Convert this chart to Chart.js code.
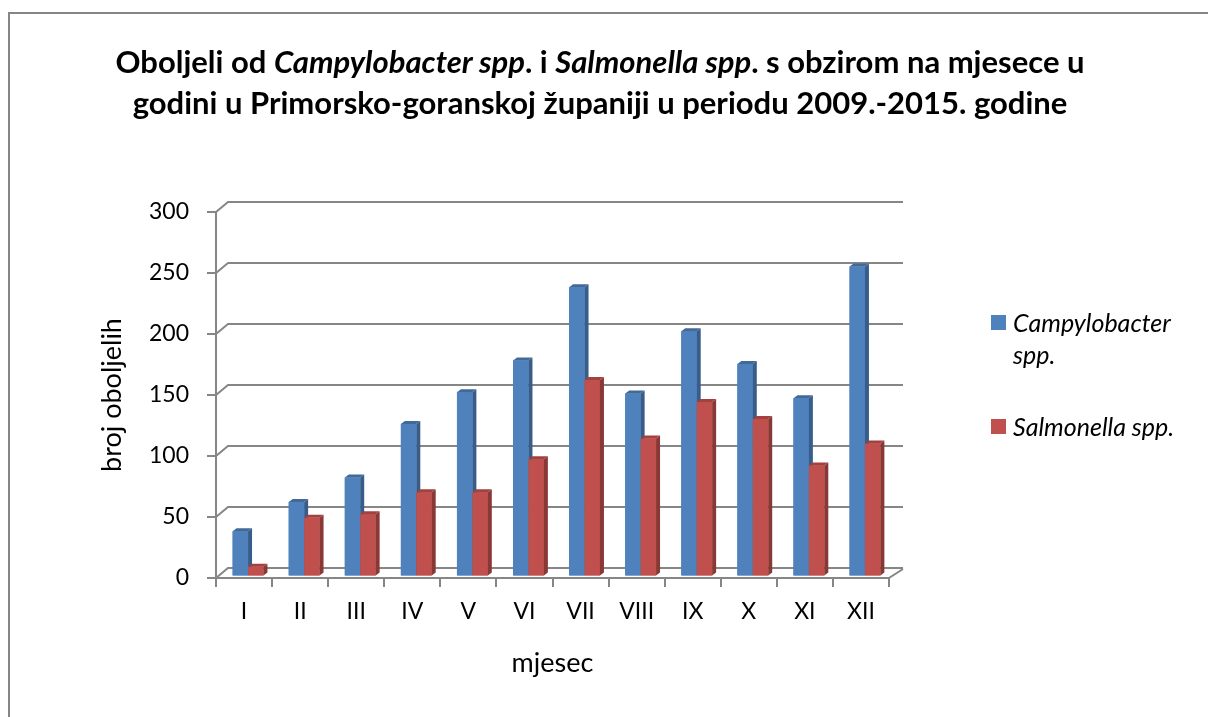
<!DOCTYPE html>
<html>
<head>
<meta charset="utf-8">
<script src="https://cdn.jsdelivr.net/npm/chart.js@4"></script>
<style>
  body { margin: 0; background: #fff; font-family: "Lato", sans-serif; }
  #wrap { position: relative; width: 1208px; height: 717px; overflow: hidden; }
  #frame { position: absolute; left: 8px; top: 12px; width: 1300px; height: 800px;
           border-top: 2px solid #868686; border-left: 2px solid #868686; }
  #title { position: absolute; left: 0; top: 41px; width: 1200px; text-align: center;
           font-size: 31px; font-weight: bold; line-height: 41px; color: #000; }
  .lg { position: absolute; font-style: italic; font-size: 25px; line-height: 32px; color: #000; }
  .sw { position: absolute; width: 15px; height: 15px; }
  canvas { position: absolute; left: 0; top: 0; }
</style>
</head>
<body>
<div id="wrap">
  <div id="frame"></div>
  <canvas id="graph--months" width="1208" height="717"></canvas>
  <div id="title">Oboljeli od <i>Campylobacter spp</i>. i <i>Salmonella spp</i>. s obzirom na mjesece u<br>godini u Primorsko-goranskoj županiji u periodu 2009.-2015. godine</div>
  <div class="sw" style="left:991px;top:315px;background:#4F81BD"></div>
  <div class="lg" style="left:1013px;top:306px;width:190px">Campylobacter<br>spp.</div>
  <div class="sw" style="left:991px;top:419px;background:#C0504D"></div>
  <div class="lg" style="left:1013px;top:410px;width:195px">Salmonella spp.</div>
</div>
<script>
const MONTHS = ["I", "II", "III", "IV", "V", "VI", "VII", "VIII", "IX", "X", "XI", "XII"];
const CAMPYLOBACTER = [37, 61, 81, 125, 151, 177, 237, 150, 201, 174, 146, 254];
const SALMONELLA = [8, 48, 51, 69, 69, 96, 161, 113, 143, 129, 91, 109];
const Y_MIN = 0;
const Y_MAX = 300;
const Y_STEP = 50;

const GRID = "#868686";
// front, side, top colours per series
const FACES = [
  ["#4F81BD", "#385D8A", "#41699A"],
  ["#C0504D", "#8A3836", "#A3413E"]
];

// fake 3D: back wall / floor offset and bar depth
const WALL = { dx: 14, dy: 9 };
const BAR = { dx: 4, dy: 3, shiftX: 4, shiftY: -1.6 };

const threeD = {
  id: "threeD",
  beforeDatasetsDraw(chart) {
    const { ctx, chartArea: a, scales: { y } } = chart;
    ctx.save();
    ctx.strokeStyle = GRID;
    ctx.lineWidth = 2;
    y.ticks.forEach(t => {
      const py = y.getPixelForValue(t.value);
      ctx.beginPath();
      ctx.moveTo(a.left, py);
      ctx.lineTo(a.left + WALL.dx - 2, py - WALL.dy - 1);
      ctx.lineTo(a.right + WALL.dx, py - WALL.dy - 1);
      ctx.stroke();
    });
    ctx.beginPath();
    ctx.moveTo(a.right, a.bottom);
    ctx.lineTo(a.right + WALL.dx, a.bottom - WALL.dy);
    ctx.stroke();
    ctx.restore();

    ctx.save();
    ctx.translate(BAR.shiftX, BAR.shiftY);
  },
  afterDatasetsDraw(chart) {
    const ctx = chart.ctx;
    const metas = chart.data.datasets.map((d, j) => chart.getDatasetMeta(j));
    MONTHS.forEach((m, i) => {
      metas.forEach((meta, j) => {
        const bar = meta.data[i];
        const { x, y, base, width } = bar.getProps(["x", "y", "base", "width"], true);
        const l = x - width / 2, r = x + width / 2;
        ctx.fillStyle = FACES[j][0];
        ctx.fillRect(l, y, width, base - y);
        ctx.fillStyle = FACES[j][1];
        ctx.beginPath();
        ctx.moveTo(r, y);
        ctx.lineTo(r + BAR.dx, y - BAR.dy);
        ctx.lineTo(r + BAR.dx, base - BAR.dy);
        ctx.lineTo(r, base);
        ctx.closePath();
        ctx.fill();
        ctx.fillStyle = FACES[j][2];
        ctx.beginPath();
        ctx.moveTo(l, y);
        ctx.lineTo(l + BAR.dx, y - BAR.dy);
        ctx.lineTo(r + BAR.dx, y - BAR.dy);
        ctx.lineTo(r, y);
        ctx.closePath();
        ctx.fill();
      });
    });
    ctx.restore();
  }
};

const CHART = document.getElementById("graph--months");

let monthsChart = new Chart(CHART, {
  type: "bar",
  data: {
    labels: MONTHS,
    datasets: [{
      label: "Campylobacter spp.",
      data: CAMPYLOBACTER,
      backgroundColor: FACES[0][0],
      categoryPercentage: 0.55,
      barPercentage: 1.0
    }, {
      label: "Salmonella spp.",
      data: SALMONELLA,
      backgroundColor: FACES[1][0],
      categoryPercentage: 0.55,
      barPercentage: 1.0
    }]
  },
  plugins: [threeD],
  options: {
    responsive: false,
    animation: false,
    layout: { padding: { left: 90, right: 319, top: 212, bottom: 38 } },
    plugins: {
      legend: { display: false },
      title: { display: false },
      tooltip: { enabled: false }
    },
    scales: {
      x: {
        afterFit(scale) { scale.height = 101; },
        grid: { offset: true, drawOnChartArea: false, drawTicks: true, tickLength: 9, color: GRID, lineWidth: 2 },
        border: { color: GRID, width: 2 },
        ticks: { color: "#000", padding: 11, font: { family: "Lato", size: 23 } },
        title: {
          display: true, text: "mjesec", color: "#000",
          padding: { top: 0, bottom: 0 },
          font: { family: "Lato", size: 27 }
        }
      },
      y: {
        min: Y_MIN,
        max: Y_MAX,
        afterFit(scale) { scale.width = 126; },
        grid: { drawOnChartArea: false, drawTicks: true, tickLength: 9, color: GRID, lineWidth: 2 },
        border: { color: GRID, width: 2 },
        ticks: { stepSize: Y_STEP, color: "#000", padding: 18, font: { family: "Lato", size: 23 } },
        title: {
          display: true, text: "broj oboljelih", color: "#000",
          padding: { top: 6, bottom: 0 },
          font: { family: "Lato", size: 27 }
        }
      }
    }
  }
});
</script>
</body>
</html>
